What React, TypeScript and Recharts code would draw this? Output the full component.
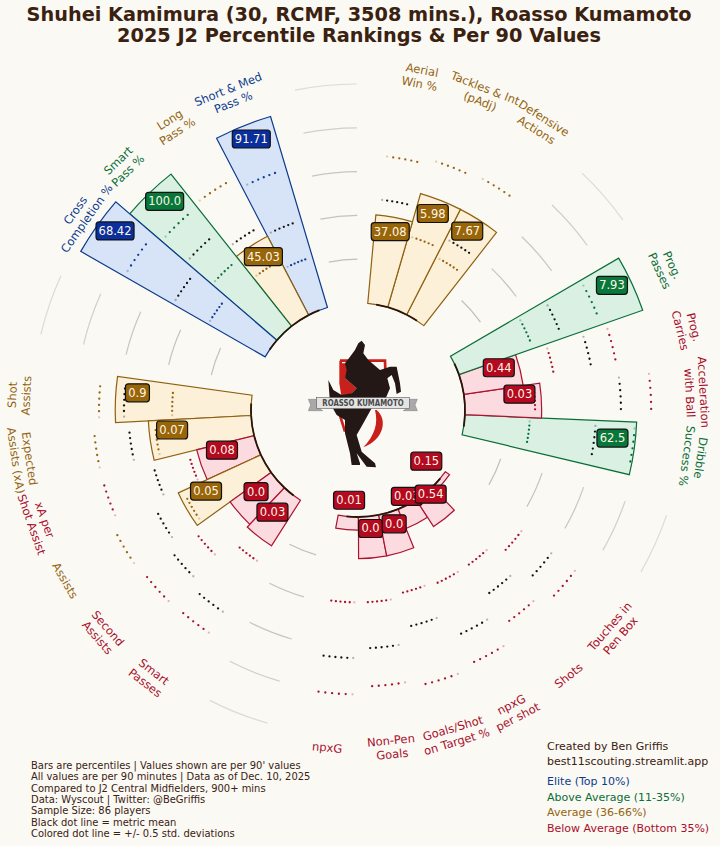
import { PolarAngleAxis, PolarRadiusAxis, RadialBar, RadialBarChart, Sector } from "recharts";

const BG = "#fbf9f4";
const INK = "#3a2110";
const SLOT = 360 / 33;
const CX = 358;
const CY = 410;

const TIER = {
  elite: { text: "#0d3b8e", fill: "#d7e3f6", stroke: "#0d3b8e", box: "#0a2f9c" },
  above: { text: "#0a6e38", fill: "#d9f0e2", stroke: "#0a6e38", box: "#08783a" },
  average: { text: "#946410", fill: "#fdf0d8", stroke: "#8f6110", box: "#986508" },
  below: { text: "#a80f2b", fill: "#fbdbe0", stroke: "#ad1230", box: "#b30a20" },
};

// all lists run counter-clockwise, starting from Short & Med Pass
const groupSizes = [4, 6, 6, 4, 3];
const metrics = [
  "Short & Med\nPass %", "Long\nPass %", "Smart\nPass %", "Cross\nCompletion %",
  "Shot\nAssists", "Expected\nAssists (xA)", "xA per\nShot Assist", "Assists", "Second\nAssists", "Smart\nPasses",
  "npxG", "Non-Pen\nGoals", "Goals/Shot\non Target %", "npxG\nper shot", "Shots", "Touches in\nPen Box",
  "Dribble\nSuccess %", "Acceleration\nwith Ball", "Prog.\nCarries", "Prog.\nPasses",
  "Defensive\nActions", "Tackles & Int\n(pAdj)", "Aerial\nWin %",
];
const percentiles = [
  91, 40.6, 88.6, 97,
  62, 47, 27, 41.5, 23, 24.7,
  6, 19, 19, 9.5, 14.6, 2.3,
  78.5, 35, 27.4, 88.9,
  54, 54, 40.6,
];
const per90 = [
  "91.71", "45.03", "100.0", "68.42",
  "0.9", "0.07", "0.08", "0.05", "0.0", "0.03",
  "0.01", "0.0", "0.0", "0.03", "0.54", "0.15",
  "62.5", "0.03", "0.44", "7.93",
  "7.67", "5.98", "37.08",
];
const lowDots = [
  24, 28, 39, 30,
  36, 44, 31, 39, 44, 34,
  39, 39, 37, 38, 38, 44,
  29.7, 32, 42, 35.8,
  29.5, 33.8, 35,
];
const meanDots = [
  41.4, 46, 54.5, 48.4,
  58, 56, 48, 54, 58, 62,
  64.4, 60, 52.7, 63.6, 54, 61,
  59.8, 71.2, 59.4, 50,
  39, 48, 47.7,
];
const highDots = [
  65.8, 71, 69.4, 74,
  69.4, 72, 72, 75, 74, 73.5,
  81, 77.4, 80, 77.8, 69.6, 74.4,
  77.7, 85, 70.9, 68.7,
  71, 70, 67.6,
];
const tiers: (keyof typeof TIER)[] = [
  "elite", "average", "above", "elite",
  "average", "average", "below", "average", "below", "below",
  "below", "below", "below", "below", "below", "below",
  "above", "below", "below", "above",
  "average", "average", "average",
];
const gridLevels = [20, 40, 60, 80, 100];
const gridOpacity = [0.95, 0.9, 0.85, 0.7, 0.5];

const footnotes = [
  "Bars are percentiles | Values shown are per 90' values",
  "All values are per 90 minutes | Data as of Dec. 10, 2025",
  "Compared to J2 Central Midfielders, 900+ mins",
  "Data: Wyscout | Twitter: @BeGriffis",
  "Sample Size: 86 players",
  "Black dot line = metric mean",
  "Colored dot line = +/- 0.5 std. deviations",
];
const legend: [string, keyof typeof TIER][] = [
  ["Elite (Top 10%)", "elite"],
  ["Above Average (11-35%)", "above"],
  ["Average (36-66%)", "average"],
  ["Below Average (Bottom 35%)", "below"],
];

// rows = one per slot, two empty slots after each metric group
const rows: any[] = [];
let cursor = 0;
groupSizes.forEach((size, g) => {
  for (let i = 0; i < size; i++) {
    const k = cursor + i;
    rows.push({
      metric: metrics[k],
      pct: percentiles[k],
      value: per90[k],
      low: lowDots[k],
      mean: meanDots[k],
      high: highDots[k],
      tier: tiers[k],
      first: i === 0,
      last: i === size - 1,
    });
  }
  cursor += size;
  rows.push({ metric: `gap${g}a`, gapStart: true });
  rows.push({ metric: `gap${g}b` });
});

const toXY = (r: number, deg: number) => ({
  x: CX + r * Math.cos((deg * Math.PI) / 180),
  y: CY - r * Math.sin((deg * Math.PI) / 180),
});

const arcPath = (r: number, from: number, to: number) => {
  const a = toXY(r, from);
  const b = toXY(r, to);
  return `M${a.x} ${a.y}A${r} ${r} 0 0 0 ${b.x} ${b.y}`;
};

const slotStart = (p: any) => p.startAngle;
const slotMid = (p: any) => p.startAngle + SLOT / 2;

const BarShape = (p: any) => {
  if (!p.payload.tier) return <g />;
  const t = TIER[p.payload.tier as keyof typeof TIER];
  return (
    <Sector
      cx={p.cx}
      cy={p.cy}
      innerRadius={p.innerRadius}
      outerRadius={p.outerRadius}
      startAngle={slotStart(p)}
      endAngle={slotStart(p) + SLOT}
      fill={t.fill}
      stroke={t.stroke}
      strokeWidth={1.2}
    />
  );
};

const dotShape = (black: boolean) => (p: any) => {
  if (!p.payload.tier) return <g />;
  const color = black ? "#111" : TIER[p.payload.tier as keyof typeof TIER].text;
  return (
    <g>
      {[0, 1, 2, 3, 4, 5].map((i) => {
        const pt = toXY(p.outerRadius, slotMid(p) - 2.75 + i * 1.375);
        return <circle key={i} cx={pt.x} cy={pt.y} r={1.15} fill={color} opacity={i === 5 ? 0.3 : 1} />;
      })}
    </g>
  );
};

const gridShape = (level: number) => (p: any) => {
  if (!p.payload.gapStart) return <g />;
  return (
    <path
      d={arcPath(p.outerRadius, slotMid(p), slotMid(p) + SLOT)}
      fill="none"
      stroke="#bdbdbd"
      strokeWidth={1.2}
      opacity={gridOpacity[gridLevels.indexOf(level)]}
    />
  );
};

const GroupArc = (p: any) => {
  if (!p.payload.tier) return <g />;
  const from = slotStart(p) + (p.payload.first ? 4.5 : 0);
  const to = slotStart(p) + SLOT - (p.payload.last ? 4.5 : 0);
  return <path d={arcPath(p.outerRadius, from, to)} fill="none" stroke="#2a1608" strokeWidth={1.8} />;
};

const LabelShape = (p: any) => {
  const row = p.payload;
  if (!row.tier) return <g />;
  const t = TIER[row.tier as keyof typeof TIER];
  const mid = slotMid(p);
  const box = toXY(p.outerRadius - 22, mid);
  const w = 7 * row.value.length + 3;

  const clock = ((90 - mid) % 360 + 360) % 360;
  const flip = clock > 100 && clock < 270;
  const rot = flip ? clock - 180 : clock;
  const nameAt = toXY(339, mid);
  const lines = row.metric.split("\n");

  return (
    <g>
      <g transform={`translate(${nameAt.x} ${nameAt.y}) rotate(${rot})`}>
        {lines.map((line: string, i: number) => (
          <text
            key={line}
            x={0}
            y={(i - (lines.length - 1) / 2) * 14 + 4}
            textAnchor="middle"
            fontSize={11.5}
            fill={t.text}
          >
            {line}
          </text>
        ))}
      </g>
      <rect x={box.x - w / 2} y={box.y - 7.5 - 9} width={w} height={18} rx={3} fill={t.box} stroke="#111" strokeWidth={1.2} />
      <text x={box.x} y={box.y - 7.5 + 4} textAnchor="middle" fontSize={11.5} fill="#fff6e8">
        {row.value}
      </text>
    </g>
  );
};

const RadiusTick = (p: any) => (
  <text x={p.x + 2} y={p.y - 2} textAnchor="middle" fontSize={11.5} fill={INK}>
    {p.payload.value}
  </text>
);

const Logo = () => (
  <svg width={720} height={846} style={{ position: "absolute", left: 0, top: 0 }}>
    <g transform="translate(300 320) scale(0.3333)">
      <path d="M120 122 L255 122 L258 200 L240 240" fill="none" stroke="#c8211c" strokeWidth={8} />
      <path d="M122 122 L122 190 L130 240" fill="none" stroke="#c8211c" strokeWidth={8} />
      <path d="M115 270 L135 335" fill="none" stroke="#c8211c" strokeWidth={8} />
      <path d="M125 130 L160 130 L135 175 L170 205 L150 225 L125 225 Z" fill="#c8211c" />
      <path d="M230 270 C265 300 250 360 190 382 C225 345 235 310 225 270 Z" fill="#c8211c" />
      <path
        d="M185 62 L195 75 L190 100 L205 120 L240 150 L270 140 L290 140 L300 190 L303 215 L290 222 L285 190 L275 165 L262 175 L270 205 L255 240 L215 265 L190 310 L170 345 L185 395 L225 430 L228 442 L200 440 L170 400 L180 430 L180 435 L155 435 L150 400 L135 340 L135 300 L110 285 L90 250 L85 180 L100 210 L125 225 L155 220 L170 205 L135 175 L140 150 L135 130 L150 110 L165 90 L175 70 Z"
        fill="#231815"
      />
      <path d="M25 238 L52 238 L52 262 L68 272 L25 272 L32 255 Z" fill="#a9a9a9" stroke="#777" strokeWidth={1.5} />
      <path d="M352 238 L325 238 L325 262 L310 272 L352 272 L345 255 Z" fill="#a9a9a9" stroke="#777" strokeWidth={1.5} />
      <rect x={50} y={233} width={278} height={33} fill="#e4e4e4" stroke="#666" strokeWidth={2} />
      <text
        x={67}
        y={258}
        fontSize={25}
        fontWeight="bold"
        fill="#4a4a4a"
        textLength={244}
        lengthAdjust="spacingAndGlyphs"
      >
        ROASSO KUMAMOTO
      </text>
    </g>
  </svg>
);

const Texts = () => (
  <svg width={720} height={846} style={{ position: "absolute", left: 0, top: 0 }}>
    <text x={359} y={21} textAnchor="middle" fontSize={19.3} fontWeight="bold" fill={INK}>
      Shuhei Kamimura (30, RCMF, 3508 mins.), Roasso Kumamoto
    </text>
    <text x={359} y={42} textAnchor="middle" fontSize={19.3} fontWeight="bold" fill={INK}>
      2025 J2 Percentile Rankings &amp; Per 90 Values
    </text>
    {footnotes.map((line, i) => (
      <text key={line} x={31} y={769 + i * 11.3} fontSize={9.95} fill={INK}>
        {line}
      </text>
    ))}
    <text x={547} y={750} fontSize={11} fill={INK}>
      Created by Ben Griffis
    </text>
    <text x={547} y={765} fontSize={11} fill={INK}>
      best11scouting.streamlit.app
    </text>
    {legend.map(([label, tier], i) => (
      <text key={label} x={547} y={785 + i * 15.5} fontSize={11} fill={TIER[tier].text}>
        {label}
      </text>
    ))}
  </svg>
);

const axisIds = ["bars", "groupArc", "low", "mean", "high", "labels", ...gridLevels.map((l) => `grid${l}`)];

export default function App() {
  return (
    <div style={{ position: "absolute", left: 0, top: 0, width: 720, height: 846, background: BG, fontFamily: "'DejaVu Sans', sans-serif", overflow: "hidden" }}>
      <Logo />
      <div style={{ position: "absolute", left: 0, top: 0 }}>
        <RadialBarChart
          width={720}
          height={846}
          cx={CX}
          cy={CY}
          innerRadius={107}
          outerRadius={326}
          startAngle={117.5}
          endAngle={477.5}
          data={rows}
          layout="centric"
          barCategoryGap={0}
          margin={{ top: 0, right: 0, bottom: 0, left: 0 }}
        >
          {axisIds.map((id) => (
            <PolarAngleAxis key={id} angleAxisId={id} dataKey="metric" type="category" tick={false} axisLine={false} tickLine={false} />
          ))}
          {axisIds.map((id) => (
            <PolarRadiusAxis key={id} radiusAxisId={id} type="number" domain={[0, 100]} tick={false} axisLine={false} tickLine={false} />
          ))}
          <PolarAngleAxis angleAxisId="ticks" dataKey="metric" type="category" tick={false} axisLine={false} tickLine={false} />
          <PolarRadiusAxis
            radiusAxisId="ticks"
            type="number"
            domain={[0, 100]}
            angle={97}
            ticks={[0, ...gridLevels]}
            tick={RadiusTick}
            axisLine={false}
            tickLine={false}
          />
          {gridLevels.map((level) => (
            <RadialBar
              key={level}
              angleAxisId={`grid${level}`}
              radiusAxisId={`grid${level}`}
              dataKey={() => [level, level]}
              shape={gridShape(level)}
              isAnimationActive={false}
            />
          ))}
          <RadialBar angleAxisId="bars" radiusAxisId="bars" dataKey={(r: any) => [0, r.pct ?? 0]} shape={BarShape} isAnimationActive={false} />
          <RadialBar angleAxisId="groupArc" radiusAxisId="groupArc" dataKey={() => [-1.4, -1.4]} shape={GroupArc} isAnimationActive={false} />
          <RadialBar angleAxisId="low" radiusAxisId="low" dataKey={(r: any) => [r.low ?? 0, r.low ?? 0]} shape={dotShape(false)} isAnimationActive={false} />
          <RadialBar angleAxisId="mean" radiusAxisId="mean" dataKey={(r: any) => [r.mean ?? 0, r.mean ?? 0]} shape={dotShape(true)} isAnimationActive={false} />
          <RadialBar angleAxisId="high" radiusAxisId="high" dataKey={(r: any) => [r.high ?? 0, r.high ?? 0]} shape={dotShape(false)} isAnimationActive={false} />
          <RadialBar angleAxisId="labels" radiusAxisId="labels" dataKey={(r: any) => [0, r.pct ?? 0]} shape={LabelShape} isAnimationActive={false} />
        </RadialBarChart>
      </div>
      <Texts />
    </div>
  );
}
